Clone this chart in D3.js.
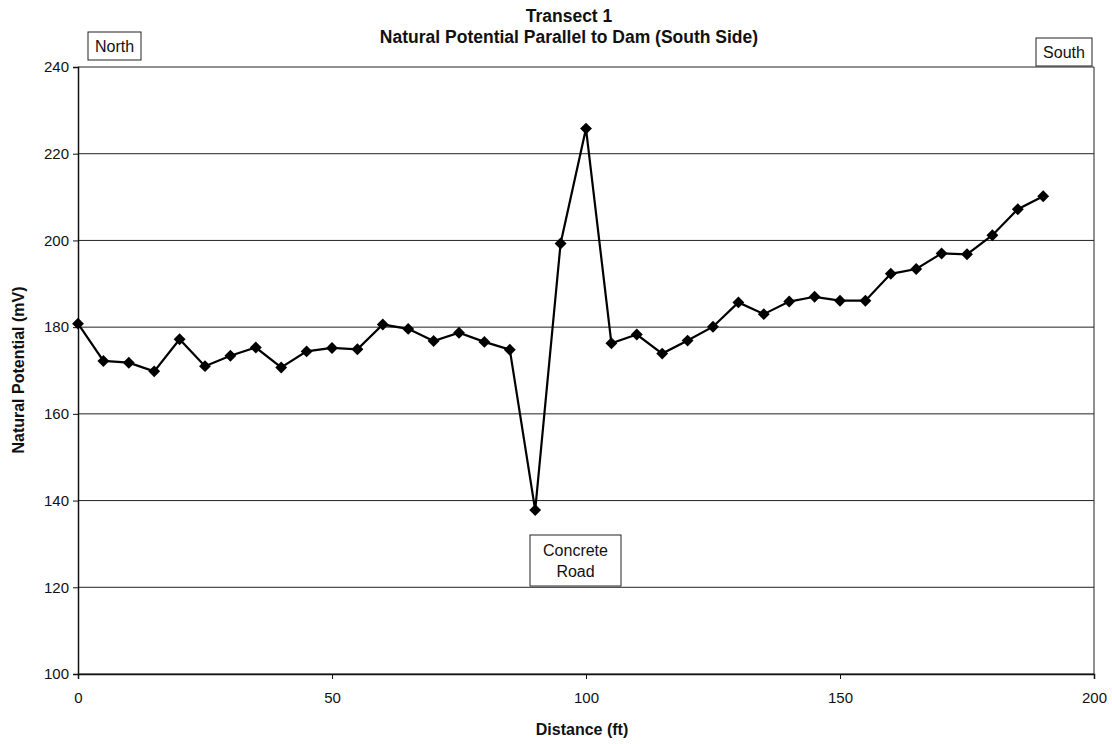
<!DOCTYPE html>
<html>
<head>
<meta charset="utf-8">
<script src="https://cdn.jsdelivr.net/npm/d3@7"></script>
<style>
  html, body { margin: 0; padding: 0; background: #fff; }
  svg { display: block; font-family: Arial, "Liberation Sans", sans-serif; }
</style>
</head>
<body>
<svg id="chart" width="1112" height="744"></svg>
<script>
// Transect 1 survey readings: distance along the line (ft) and natural potential (mV)
const distance = [0, 5, 10, 15, 20, 25, 30, 35, 40, 45, 50, 55, 60, 65, 70, 75, 80, 85, 90, 95,
                  100, 105, 110, 115, 120, 125, 130, 135, 140, 145, 150, 155, 160, 165, 170, 175, 180, 185, 190];
const potential = [180.8, 172.2, 171.8, 169.8, 177.2, 171.0, 173.4, 175.3, 170.7, 174.4,
                   175.2, 174.9, 180.6, 179.6, 176.8, 178.7, 176.6, 174.8, 137.8, 199.3,
                   225.8, 176.3, 178.3, 173.9, 176.9, 180.1, 185.7, 183.0, 185.9, 187.0,
                   186.1, 186.1, 192.3, 193.4, 197.0, 196.8, 201.2, 207.2, 210.2];

const xTicks = [0, 50, 100, 150, 200];
const yTicks = [100, 120, 140, 160, 180, 200, 220, 240];

const titleLines = ["Transect 1", "Natural Potential Parallel to Dam (South Side)"];
const xTitle = "Distance (ft)";
const yTitle = "Natural Potential (mV)";

const FONT = "Arial, 'Liberation Sans', sans-serif";
const svg = d3.select("#chart");
const plot = { left: 78, right: 1094, top: 67, bottom: 674 };

const x = d3.scaleLinear().domain([0, 200]).range([plot.left, plot.right]);
const y = d3.scaleLinear().domain([100, 240]).range([plot.bottom, plot.top]);

// horizontal gridlines
svg.append("g")
  .selectAll("line")
  .data(yTicks)
  .join("line")
  .attr("x1", plot.left).attr("x2", plot.right)
  .attr("y1", d => y(d)).attr("y2", d => y(d))
  .attr("stroke", "#222").attr("stroke-width", 1);

// plot frame (right edge)
svg.append("line")
  .attr("x1", plot.right).attr("x2", plot.right)
  .attr("y1", plot.top).attr("y2", plot.bottom)
  .attr("stroke", "#222").attr("stroke-width", 1);

// y axis
const yAxis = svg.append("g")
  .attr("transform", `translate(${plot.left},0)`)
  .call(d3.axisLeft(y).tickValues(yTicks).tickSize(5).tickPadding(4).tickFormat(d3.format("d")));
yAxis.select(".domain").attr("stroke", "#111").attr("stroke-width", 1.5);
yAxis.selectAll(".tick line").attr("stroke", "#111");
yAxis.selectAll(".tick text").attr("font-size", 15).attr("fill", "#111").attr("font-family", FONT);

// x axis
const xAxis = svg.append("g")
  .attr("transform", `translate(0,${plot.bottom})`)
  .call(d3.axisBottom(x).tickValues(xTicks).tickSize(5).tickPadding(13).tickFormat(d3.format("d")));
xAxis.select(".domain").attr("stroke", "#111").attr("stroke-width", 1.5);
xAxis.selectAll(".tick line").attr("stroke", "#111");
xAxis.selectAll(".tick text").attr("font-size", 15).attr("fill", "#111").attr("font-family", FONT);

// titles
svg.append("g")
  .selectAll("text")
  .data(titleLines)
  .join("text")
  .attr("x", 569)
  .attr("y", (d, i) => 22 + i * 21)
  .attr("text-anchor", "middle")
  .attr("font-size", 17.5)
  .attr("font-weight", "bold")
  .attr("fill", "#111")
  .text(d => d);

svg.append("text")
  .attr("x", 582).attr("y", 735)
  .attr("text-anchor", "middle")
  .attr("font-size", 16).attr("font-weight", "bold").attr("fill", "#111")
  .text(xTitle);

svg.append("text")
  .attr("transform", "translate(24,370) rotate(-90)")
  .attr("text-anchor", "middle")
  .attr("font-size", 16).attr("font-weight", "bold").attr("fill", "#111")
  .text(yTitle);

// data line and diamond markers
const line = d3.line().x((d, i) => x(distance[i])).y(d => y(d));
svg.append("path")
  .datum(potential)
  .attr("d", line)
  .attr("fill", "none")
  .attr("stroke", "#000")
  .attr("stroke-width", 2.2)
  .attr("stroke-linejoin", "miter");

const diamond = d3.symbol().type(d3.symbolDiamond2).size(90);
svg.append("g")
  .selectAll("path")
  .data(potential)
  .join("path")
  .attr("transform", (d, i) => `translate(${x(distance[i])},${y(d)})`)
  .attr("d", diamond)
  .attr("fill", "#000");

// boxed annotations
const notes = [
  { lines: ["North"], x0: 88, y0: 32, w: 53, h: 28 },
  { lines: ["South"], x0: 1036, y0: 38, w: 56, h: 28 },
  { lines: ["Concrete", "Road"], x0: 530, y0: 535, w: 91, h: 51 }
];
const ng = svg.append("g").selectAll("g").data(notes).join("g");
ng.append("rect")
  .attr("x", d => d.x0).attr("y", d => d.y0)
  .attr("width", d => d.w).attr("height", d => d.h)
  .attr("fill", "#fff").attr("stroke", "#222").attr("stroke-width", 1);
ng.each(function (d) {
  const g = d3.select(this);
  const n = d.lines.length;
  d.lines.forEach((t, i) => {
    g.append("text")
      .attr("x", d.x0 + d.w / 2)
      .attr("y", d.y0 + d.h / 2 + (i - (n - 1) / 2) * 21 + 5.5)
      .attr("text-anchor", "middle")
      .attr("font-size", 16)
      .attr("fill", "#111")
      .text(t);
  });
});
</script>
</body>
</html>
